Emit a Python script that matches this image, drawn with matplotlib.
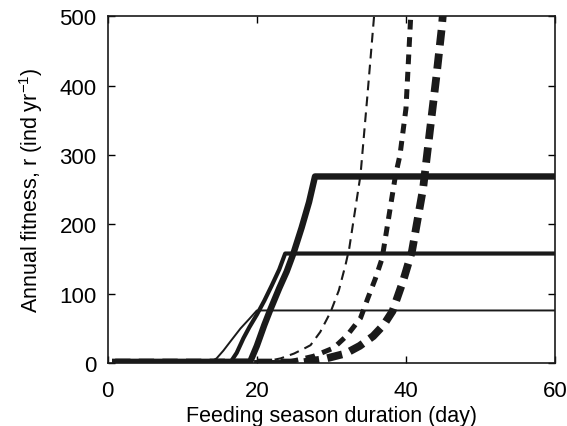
import matplotlib
matplotlib.use("Agg")
import matplotlib.pyplot as plt

plt.rcParams['font.family'] = ['Liberation Sans', 'DejaVu Sans']
plt.rcParams['mathtext.default'] = 'regular'
plt.rcParams['lines.scale_dashes'] = False

# solid curves
thin_x = [1, 13.8, 14.6, 15.5, 16.5, 17.8, 19.0, 20.0, 60]
thin_y = [2, 2, 7, 18, 32, 50, 64, 76, 76]
med_x = [1, 16.5, 17.3, 18.2, 19.0, 20.0, 21.0, 22.0, 23.0, 23.8, 60]
med_y = [2, 2, 15, 36, 52, 70, 90, 112, 135, 158, 158]
thick_x = [1, 19.1, 20.0, 21.0, 21.8, 23.0, 24.0, 24.9, 26.0, 27.0, 27.8, 60]
thick_y = [2, 2, 25, 55, 77, 108, 132, 158, 195, 232, 269, 269]

# dashed curves
dthin_x = [1, 20.5, 23.2, 25.0, 26.5, 27.2, 28.5, 29.9, 31.0, 31.9, 32.4, 33.9, 34.8, 35.7, 36.5]
dthin_y = [1, 1, 7, 14, 22, 26, 45, 74, 105, 142, 166, 271, 382, 497, 600]
dmed_x = [1, 24.0, 27.6, 30.3, 32.1, 33.9, 34.9, 35.9, 36.8, 38.6, 39.2, 40.0, 40.6, 41.2]
dmed_y = [1, 1, 10, 22, 40, 65, 94, 122, 151, 271, 300, 367, 492, 600]
dthick_x = [1, 26.0, 29.0, 31.9, 33.8, 35.6, 37.0, 38.2, 39.6, 40.8, 42.3, 43.2, 44.1, 44.8, 45.4]
dthick_y = [1, 1, 6, 14, 25, 39, 55, 75, 118, 161, 252, 334, 415, 483, 560]

fig = plt.figure(figsize=(5.67, 4.27), dpi=100)
ax = fig.add_axes([0.190, 0.147, 0.789, 0.813])

ax.plot(thin_x, thin_y, color='#1a1a1a', lw=1.4)
ax.plot(med_x, med_y, color='#1a1a1a', lw=3.0)
ax.plot(thick_x, thick_y, color='#1a1a1a', lw=4.6)
ax.plot(dthin_x, dthin_y, color='#1a1a1a', lw=1.5, dashes=(7, 4.5))
ax.plot(dmed_x, dmed_y, color='#1a1a1a', lw=3.6, dashes=(7, 5.5))
ax.plot(dthick_x, dthick_y, color='#1a1a1a', lw=5.6, dashes=(11, 6))

ax.set_xlim(0, 60)
ax.set_ylim(0, 500)
ax.set_xticks([0, 20, 40, 60])
ax.set_yticks([0, 100, 200, 300, 400, 500])
ax.tick_params(direction='in', top=True, right=True, length=5, width=1, labelsize=16)
ax.tick_params(axis='x', pad=12)
ax.tick_params(axis='y', pad=8)
for s in ax.spines.values():
    s.set_linewidth(1.2)
    s.set_color('#1a1a1a')

ax.set_xlabel('Feeding season duration (day)', fontsize=15.5, labelpad=3)
ax.set_ylabel('Annual fitness, r (ind yr$^{-1}$)', fontsize=15.5, labelpad=10)

fig.savefig('out.png', dpi=100)
